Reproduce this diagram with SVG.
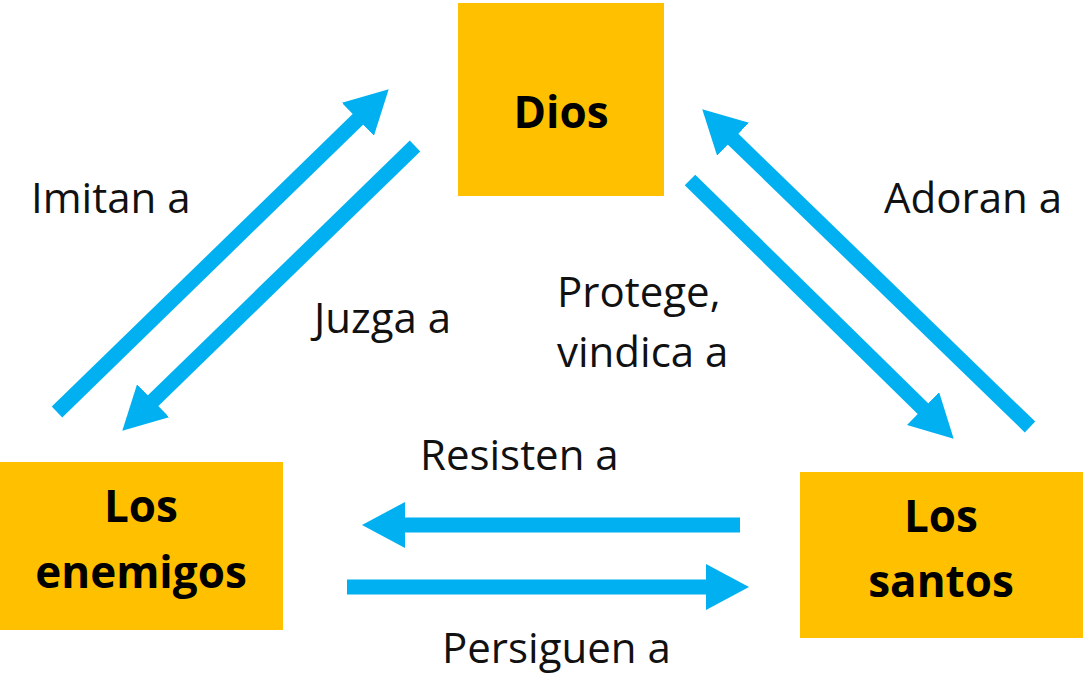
<svg xmlns="http://www.w3.org/2000/svg" width="1083" height="675" viewBox="0 0 1083 675">
<style>
.box{fill:#FFC000}
.nt{font-family:"Open Sans","Noto Sans",sans-serif;font-weight:bold;font-size:44px;fill:#000;text-anchor:middle}
.lb{font-family:"Open Sans","Noto Sans",sans-serif;font-size:42px;fill:#111}
.ar{stroke:#00B0F0;stroke-width:15;fill:none;marker-end:url(#head)}
</style>
<defs>
<marker id="head" markerUnits="userSpaceOnUse" markerWidth="44" markerHeight="46" refX="1" refY="23" orient="auto">
<path d="M0,0 L43,23 L0,46 z" fill="#00B0F0"/>
</marker>
</defs>
<rect width="1083" height="675" fill="#fff"/>
<g id="dios">
<rect class="box" x="458" y="3" width="206" height="193"/>
<text class="nt" x="561" y="128">Dios</text>
</g>
<g id="enemigos">
<rect class="box" x="0" y="462" width="283" height="168"/>
<text class="nt" x="141" y="522">Los</text>
<text class="nt" x="141" y="588">enemigos</text>
</g>
<g id="santos">
<rect class="box" x="800" y="472" width="283" height="166"/>
<text class="nt" x="941" y="532">Los</text>
<text class="nt" x="941" y="597">santos</text>
</g>
<g id="connectors">
<line class="ar" x1="57" y1="412" x2="358.6" y2="118.6"/>
<line class="ar" x1="415" y1="146" x2="152.4" y2="401.4"/>
<line class="ar" x1="1030" y1="427" x2="732.4" y2="138.5"/>
<line class="ar" x1="690" y1="180" x2="923.7" y2="409.3"/>
<line class="ar" x1="740" y1="525" x2="404" y2="525"/>
<line class="ar" x1="347" y1="587" x2="707" y2="587"/>
</g>
<g id="labels">
<text class="lb" x="31" y="213">Imitan a</text>
<text class="lb" x="314" y="333">Juzga a</text>
<text class="lb" x="884" y="213">Adoran a</text>
<text class="lb" x="557" y="307">Protege,</text>
<text class="lb" x="557" y="367">vindica a</text>
<text class="lb" x="420" y="470">Resisten a</text>
<text class="lb" x="442" y="663">Persiguen a</text>
</g>
</svg>
